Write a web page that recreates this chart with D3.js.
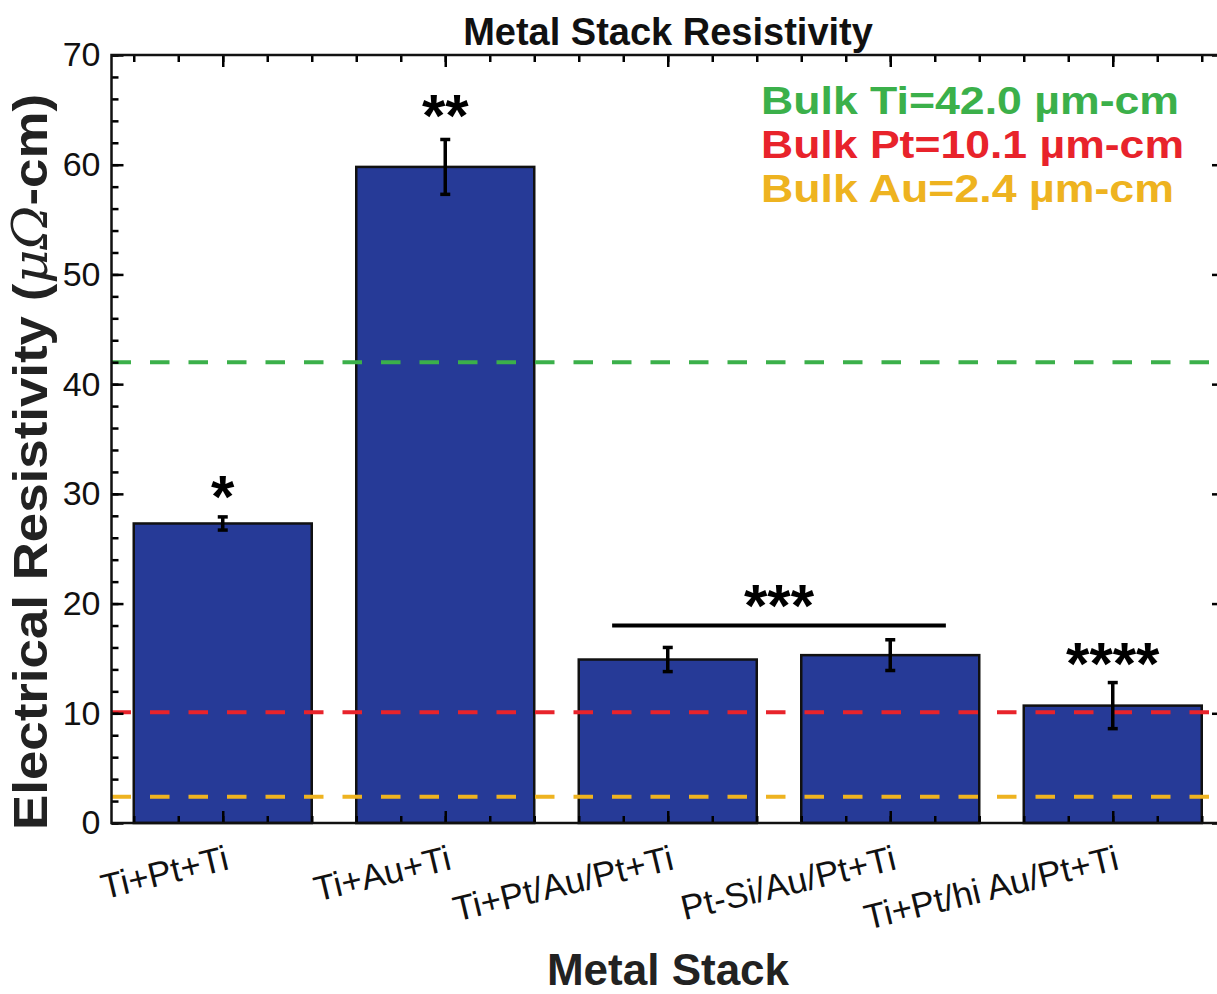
<!doctype html>
<html lang="en">
  <head>
    <meta charset="utf-8">
    <title>Metal Stack Resistivity</title>
    <style>
      body{margin:0;background:#fff;}
      svg{display:block;font-family:"Liberation Sans",Arial,Helvetica,sans-serif;}
    </style>
  </head>
  <body>
    <div class="holder"></div>
    <script src="https://cdn.jsdelivr.net/npm/d3@7"></script>
    <script>

      // data
      var categories = ["Ti+Pt+Ti", "Ti+Au+Ti", "Ti+Pt/Au/Pt+Ti", "Pt-Si/Au/Pt+Ti", "Ti+Pt/hi Au/Pt+Ti"];
      var values     = [27.3, 59.8, 14.9, 15.3, 10.7];
      var errors     = [0.6, 2.5, 1.1, 1.4, 2.1];

      var bulkNames  = ["Bulk Ti=42.0 \u00b5m-cm", "Bulk Pt=10.1 \u00b5m-cm", "Bulk Au=2.4 \u00b5m-cm"];
      var bulkValues = [42.0, 10.1, 2.4];
      var bulkColors = ["#3bb04a", "#e8232b", "#eeb320"];

      // significance marks: label, x position (category units), baseline value
      var sigLabels = ["*", "**", "***", "****"];
      var sigX      = [1, 2, 3.5, 5];
      var sigY      = [27.9, 62.6, 18.0, 12.7];
      var sigLine   = [2.75, 4.25, 18];   // x0, x1, y

      var yTicks = d3.range(0, 71, 10);
      var yMinor = d3.range(0, 71, 2);
      var xTicks = [1, 2, 3, 4, 5];
      var xMinor = d3.range(0.6, 5.45, 0.2).map(function(d){ return Math.round(d * 10) / 10; });

      var width = 1217, height = 994;
      var margin = {left: 111.5, top: 55, bottom: 171};
      var plotRight = 1224;

      var svg = d3.select(".holder").append("svg")
          .attr("width", width)
          .attr("height", height);

      var x = d3.scaleLinear().domain([0.5, 5.5]).range([margin.left, plotRight]);
      var y = d3.scaleLinear().domain([0, 70]).range([height - margin.bottom, margin.top]);

      var barW = x(0.8) - x(0);

      //bars
      svg.selectAll(".bar")
          .data(values)
          .enter().append("rect")
          .attr("class", "bar")
          .attr("x", function(d, i){ return x(i + 1) - barW / 2; })
          .attr("y", function(d){ return y(d); })
          .attr("width", barW)
          .attr("height", function(d){ return y(0) - y(d); })
          .style("fill", "#263a97")
          .style("stroke", "#111")
          .style("stroke-width", 2.5);

      //bulk reference lines
      svg.selectAll(".bulk")
          .data(bulkValues)
          .enter().append("line")
          .attr("x1", x(0.5)).attr("x2", plotRight)
          .attr("y1", function(d){ return y(d); })
          .attr("y2", function(d){ return y(d); })
          .style("stroke", function(d, i){ return bulkColors[i]; })
          .style("stroke-width", 4)
          .style("stroke-dasharray", "19.5,19");

      //error bars
      var eb = svg.selectAll(".err").data(values).enter().append("g");
      eb.append("line")
          .attr("x1", function(d, i){ return x(i + 1); })
          .attr("x2", function(d, i){ return x(i + 1); })
          .attr("y1", function(d, i){ return y(d + errors[i]); })
          .attr("y2", function(d, i){ return y(d - errors[i]); });
      eb.append("line")
          .attr("x1", function(d, i){ return x(i + 1) - 5; })
          .attr("x2", function(d, i){ return x(i + 1) + 5; })
          .attr("y1", function(d, i){ return y(d + errors[i]); })
          .attr("y2", function(d, i){ return y(d + errors[i]); });
      eb.append("line")
          .attr("x1", function(d, i){ return x(i + 1) - 5; })
          .attr("x2", function(d, i){ return x(i + 1) + 5; })
          .attr("y1", function(d, i){ return y(d - errors[i]); })
          .attr("y2", function(d, i){ return y(d - errors[i]); });
      eb.selectAll("line").style("stroke", "#000").style("stroke-width", 3.5);

      //axes - ticks point inward
      var fontTick = "34px";
      svg.append("g").attr("transform", "translate(" + x(0.5) + ",0)")
          .call(d3.axisLeft(y).tickValues(yMinor).tickSize(-7).tickSizeOuter(0).tickFormat(""));
      svg.append("g").attr("class", "yax").attr("transform", "translate(" + x(0.5) + ",0)")
          .call(d3.axisLeft(y).tickValues(yTicks).tickSize(-12).tickSizeOuter(0).tickPadding(11));
      svg.append("g").attr("transform", "translate(" + plotRight + ",0)")
          .call(d3.axisRight(y).tickValues(yMinor).tickSize(-7).tickSizeOuter(0).tickFormat(""));
      svg.append("g").attr("transform", "translate(" + plotRight + ",0)")
          .call(d3.axisRight(y).tickValues(yTicks).tickSize(-12).tickSizeOuter(0).tickFormat(""));
      svg.append("g").attr("transform", "translate(0," + y(70) + ")")
          .call(d3.axisTop(x).tickValues(xMinor).tickSize(-7).tickSizeOuter(0).tickFormat(""));
      svg.append("g").attr("transform", "translate(0," + y(70) + ")")
          .call(d3.axisTop(x).tickValues(xTicks).tickSize(-12).tickSizeOuter(0).tickFormat(""));
      svg.append("g").attr("transform", "translate(0," + y(0) + ")")
          .call(d3.axisBottom(x).tickValues(xMinor).tickSize(-7).tickSizeOuter(0).tickFormat(""));
      var xax = svg.append("g").attr("class", "xax").attr("transform", "translate(0," + y(0) + ")")
          .call(d3.axisBottom(x).tickValues(xTicks).tickSize(-12).tickSizeOuter(0)
            .tickFormat(function(d){ return categories[d - 1]; }));

      svg.selectAll(".tick line").style("stroke", "#000").style("stroke-width", 2.5);
      svg.selectAll(".domain").remove();

      svg.selectAll(".yax text")
          .style("font-size", fontTick)
          .style("font-family", "Liberation Sans, Arial, sans-serif")
          .style("fill", "#111");

      xax.selectAll("text")
          .attr("y", 0).attr("dy", 0)
          .attr("text-anchor", "end")
          .attr("transform", "translate(7,46) rotate(-13.5)")
          .style("font-size", "35px")
          .style("font-family", "Liberation Sans, Arial, sans-serif")
          .style("fill", "#111");

      //frame
      svg.append("rect")
          .attr("x", x(0.5)).attr("y", y(70))
          .attr("width", plotRight - x(0.5)).attr("height", y(0) - y(70))
          .style("fill", "none").style("stroke", "#111").style("stroke-width", 2.5);

      //significance
      svg.append("line")
          .attr("x1", x(sigLine[0])).attr("x2", x(sigLine[1]))
          .attr("y1", y(sigLine[2])).attr("y2", y(sigLine[2]))
          .style("stroke", "#000").style("stroke-width", 4);

      svg.selectAll(".sig")
          .data(sigLabels)
          .enter().append("text")
          .attr("x", function(d, i){ return x(sigX[i]); })
          .attr("y", function(d, i){ return y(sigY[i]); })
          .attr("text-anchor", "middle")
          .text(function(d){ return d; })
          .style("font-size", "60px")
          .style("font-weight", "bold")
          .style("fill", "#000");

      //bulk labels
      var bulkLen = [418, 423, 413];
      svg.selectAll(".bulklab")
          .data(bulkNames)
          .enter().append("text")
          .attr("x", 761)
          .attr("y", function(d, i){ return 114 + i * 44; })
          .attr("textLength", function(d, i){ return bulkLen[i]; })
          .attr("lengthAdjust", "spacingAndGlyphs")
          .text(function(d){ return d; })
          .style("font-size", "39px")
          .style("font-weight", "bold")
          .style("fill", function(d, i){ return bulkColors[i]; });

      //titles
      svg.append("text")
          .attr("x", 668).attr("y", 45)
          .attr("text-anchor", "middle")
          .text("Metal Stack Resistivity")
          .style("font-size", "38px").style("font-weight", "bold").style("fill", "#111");

      svg.append("text")
          .attr("x", 668).attr("y", 985)
          .attr("text-anchor", "middle")
          .text("Metal Stack")
          .style("font-size", "44px").style("font-weight", "bold").style("fill", "#222");

      var yl = svg.append("text")
          .attr("transform", "translate(47,462) rotate(-90)")
          .attr("text-anchor", "middle")
          .attr("textLength", 736)
          .attr("lengthAdjust", "spacingAndGlyphs")
          .style("font-size", "48px").style("font-weight", "bold").style("fill", "#222");
      yl.append("tspan").text("Electrical Resistivity (");
      yl.append("tspan").text("\u03bc\u03a9").style("font-style", "italic").style("font-weight", "normal")
          .style("font-family", "DejaVu Serif, serif");
      yl.append("tspan").text("-cm)");

    </script>
  </body>
</html>
